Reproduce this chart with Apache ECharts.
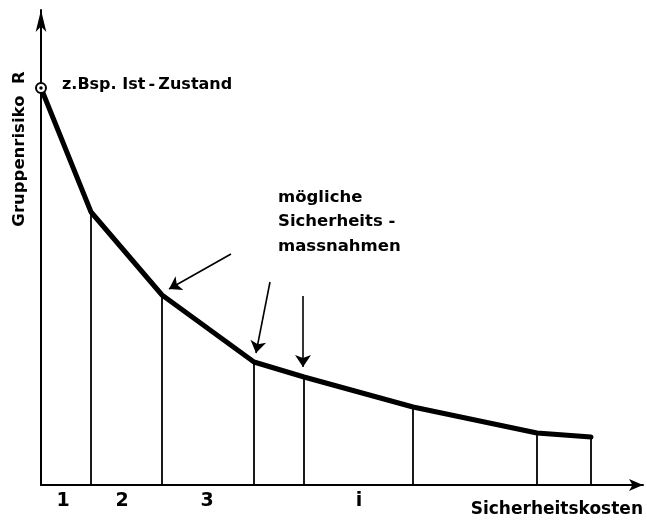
<!DOCTYPE html>
<html>
<head>
<meta charset="utf-8">
<script src="https://cdn.jsdelivr.net/npm/echarts@6/dist/echarts.min.js"></script>
<style>html,body{margin:0;padding:0;background:#fff}#c{width:647px;height:522px}</style>
</head>
<body>
<div id="c"></div>
<script>
// Breakpoints (measure steps) – cost vs. group risk (arbitrary units)
const stepCost = [0, 50, 121, 213, 263, 372, 496, 550];
const stepRisk = [397, 273, 190, 123, 108, 78, 52, 48];
// Interval labels below the axis
const intervalLabels = ['1', '2', '3', 'i'];
const intervalPos = [22, 81, 166, 318];
// Annotation arrows [fromCost, fromRisk] -> [toCost, toRisk]
const arrowFrom = [[190, 231], [229, 203], [262, 189]];
const arrowTo = [[128, 196], [215, 132], [262, 118]];

const curve = stepCost.map((c, i) => [c, stepRisk[i]]);

const F = '"DejaVu Sans", sans-serif';
const chart = echarts.init(document.getElementById('c'));
chart.setOption({
  animation: false,
  backgroundColor: '#fff',
  grid: { left: 41, right: 4, top: 10, bottom: 37 },
  xAxis: {
    type: 'value', min: 0, max: 602,
    axisLine: { lineStyle: { color: '#000', width: 2 }, symbol: ['none', 'arrow'], symbolSize: [9, 14] },
    axisTick: { show: false }, axisLabel: { show: false }, splitLine: { show: false }
  },
  yAxis: {
    type: 'value', min: 0, max: 475,
    axisLine: { lineStyle: { color: '#000', width: 2 }, symbol: ['none', 'arrow'], symbolSize: [8, 22] },
    axisTick: { show: false }, axisLabel: { show: false }, splitLine: { show: false }
  },
  series: [
    {
      type: 'lines', coordinateSystem: 'cartesian2d', z: 2,
      lineStyle: { color: '#000', width: 1.8, opacity: 1 },
      data: stepCost.slice(1).map((c, i) => ({ coords: [[c, 0], [c, stepRisk[i + 1]]] }))
    },
    {
      type: 'line', data: curve, symbol: 'none', z: 3,
      lineStyle: { color: '#000', width: 5, join: 'round', cap: 'round' }
    },
    {
      type: 'lines', coordinateSystem: 'cartesian2d', z: 4,
      symbol: ['none', 'arrow'], symbolSize: [7, 12],
      lineStyle: { color: '#000', width: 1.6, opacity: 1 },
      data: arrowFrom.map((f, i) => ({ coords: [f, arrowTo[i]] }))
    },
    {
      type: 'scatter', z: 5, symbol: 'circle', symbolSize: 10,
      itemStyle: { color: '#fff', borderColor: '#000', borderWidth: 2, opacity: 1 },
      data: [[stepCost[0], stepRisk[0]]]
    },
    {
      type: 'scatter', z: 6, symbol: 'circle', symbolSize: 3.5,
      itemStyle: { color: '#000', opacity: 1 },
      data: [[stepCost[0], stepRisk[0]]]
    }
  ]
});

const g = [];
intervalLabels.forEach((t, i) => {
  const p = chart.convertToPixel({ gridIndex: 0 }, [intervalPos[i], 0]);
  g.push({ type: 'text', x: p[0], y: p[1] + 16, style: { text: t, font: 'bold 19px ' + F, fill: '#000', align: 'center', verticalAlign: 'middle' } });
});
g.push({ type: 'text', x: 643, y: 510, style: { text: 'Sicherheitskosten', font: 'bold 17px ' + F, fill: '#000', align: 'right', verticalAlign: 'middle' } });
g.push({ type: 'text', x: 62, y: 85, style: { text: 'z.Bsp. Ist\u2009-\u2009Zustand', font: 'bold 16px ' + F, fill: '#000', align: 'left', verticalAlign: 'middle' } });
g.push({ type: 'text', x: 278, y: 185, style: { text: 'mögliche\nSicherheits -\nmassnahmen', font: 'bold 16.5px ' + F, lineHeight: 24.5, fill: '#000', align: 'left', verticalAlign: 'top' } });
g.push({ type: 'text', x: 20, y: 149, rotation: Math.PI / 2, style: { text: 'Gruppenrisiko  R', font: 'bold 16.5px ' + F, fill: '#000', align: 'center', verticalAlign: 'middle' } });
chart.setOption({ graphic: g });
</script>
</body>
</html>
